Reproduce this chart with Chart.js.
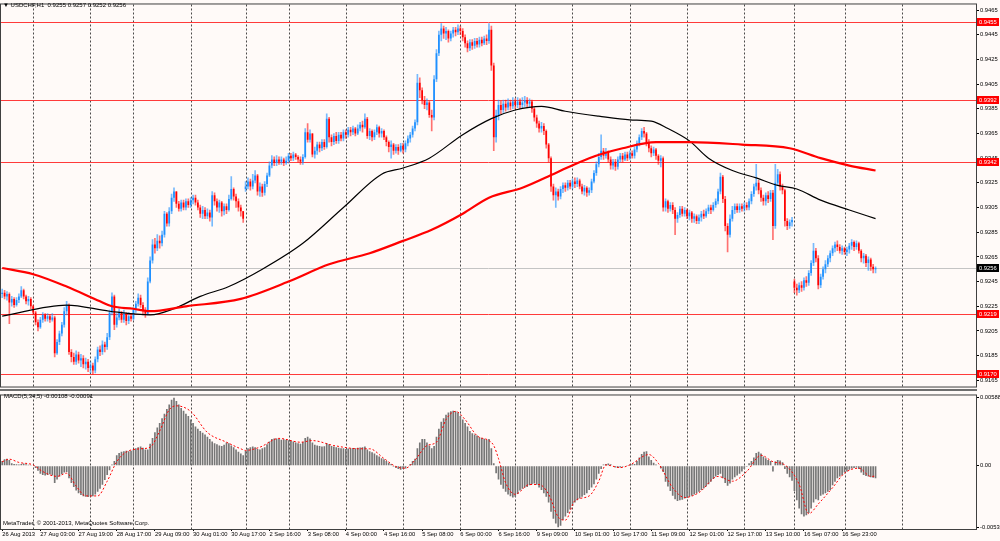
<!DOCTYPE html>
<html>
<head>
<meta charset="utf-8">
<script src="https://cdn.jsdelivr.net/npm/chart.js@4.4.0/dist/chart.umd.min.js"></script>
<style>
  html, body { margin: 0; padding: 0; background: #fffaf8; }
  #wrap { position: relative; width: 1000px; height: 541px; overflow: hidden; background: #fffaf8; }
  canvas { position: absolute; left: 0; }
  #price { top: 0; }
  #macd { top: 391px; }
  #sep { position: absolute; left: 0; top: 389px; width: 977px; height: 2px; background: #6e6e6e; }
  .lbl { position: absolute; font: 6px "Liberation Sans", Arial, sans-serif; color: #000; white-space: pre; }
</style>
</head>
<body>
<div id="wrap">
  <canvas id="price" width="1000" height="391"></canvas>
  <canvas id="macd" width="1000" height="150"></canvas>
  <div id="sep"></div>
  <div class="lbl" style="left:3px;top:2px">▼ USDCHF,H1  0.9255 0.9257 0.9252 0.9256</div>
  <div class="lbl" style="left:4px;top:393px">MACD(5,34,5) -0.00108 -0.00091</div>
  <div class="lbl" style="left:3px;top:520px">MetaTrader, © 2001-2013, MetaQuotes Software Corp.</div>
</div>
<script>
// USDCHF H1 candles, prices in pips above 0.9000 (236 = 0.9236)
const firstOpen = 235;
const gapOpens = { 102: 320, 332: 245 };   // Monday opens after a weekend gap

const closes = [
  236,233,235,228,231,226,230,233,238,233, 229,231,225,220,212,208,214,218,215,217,
  214,216,187,196,203,210,221,226,188,184, 180,186,181,183,178,180,175,177,173,182,
  190,188,194,192,200,220,233,210,216,220, 214,219,213,217,215,222,227,232,226,221,
  219,245,262,275,272,278,276,283,300,292, 302,313,318,308,304,309,305,310,307,311,
  313,309,305,300,303,298,301,297,315,310, 305,309,302,306,303,312,320,314,310,305,
  302,296,322,326,322,327,331,318,322,317, 324,331,339,344,341,344,342,344,341,343,
  347,345,348,346,344,342,346,366,360,365, 348,351,356,353,358,354,377,362,358,363,
  359,364,361,366,364,368,366,369,365,369, 372,370,377,363,367,362,366,370,365,367,
  362,358,354,356,351,354,351,355,352,357, 361,364,369,374,406,400,392,388,390,380,
  378,409,430,445,450,446,448,442,446,449, 447,450,448,443,438,434,439,436,440,437,
  441,438,442,440,449,420,362,380,388,384, 389,386,390,387,391,388,391,388,390,392,
  389,391,385,378,373,369,371,367,356,345, 322,315,318,314,320,323,321,325,322,326,
  324,327,322,318,321,317,319,326,333,340, 346,351,347,350,344,339,342,338,344,347,
  344,348,345,349,347,352,357,362,367,365, 358,353,349,352,347,343,345,305,310,304,
  307,303,296,299,304,300,303,298,301,296, 298,294,297,300,298,302,305,303,307,310,
  318,330,312,290,283,296,303,306,303,306, 304,307,305,310,316,322,325,319,313,310,
  315,312,317,290,325,332,322,319,294,290, 293,295,240,238,242,240,246,244,252,260,
  270,264,242,249,255,259,264,268,272,275, 273,270,272,269,271,274,277,273,276,270,
  264,266,260,263,257,255,256
];
const highs = [
  239,238,237,236,233,232,232,235,241,239, 234,233,232,226,221,214,216,220,219,219,
  218,219,217,198,205,212,224,229,227,190, 187,189,188,186,185,183,182,180,179,184,
  192,193,197,196,203,222,236,234,219,223, 221,222,220,220,219,224,229,235,234,228,
  224,248,265,279,280,283,282,286,302,301, 305,316,321,318,310,311,311,312,312,313,
  315,315,311,307,306,305,304,303,318,317, 312,311,310,308,308,315,330,321,316,312,
  307,302,326,329,328,332,335,332,325,324, 326,333,342,347,346,347,346,346,345,346,
  349,349,350,349,347,346,348,369,373,368, 365,354,358,358,360,360,381,378,364,365,
  366,366,366,368,368,370,370,371,370,372, 374,375,381,378,369,368,368,372,371,369,
  368,363,359,359,357,356,356,357,357,359, 363,366,371,376,413,410,402,395,393,391,
  384,412,433,448,454,452,451,449,448,451, 451,453,452,450,445,440,441,441,442,442,
  443,443,444,445,454,452,422,384,392,391, 392,392,393,392,394,393,394,393,394,395,
  394,393,392,386,380,375,374,373,368,357, 346,324,321,320,322,325,325,327,327,328,
  329,329,328,324,323,322,321,328,335,342, 349,364,353,353,351,346,344,344,346,349,
  349,350,350,351,351,354,359,364,369,370, 366,360,355,354,353,348,347,346,312,311,
  309,309,305,301,306,306,305,304,303,302, 300,299,299,302,303,304,307,307,309,312,
  320,333,331,314,292,299,306,308,308,308, 308,309,309,312,318,324,340,327,321,315,
  317,318,319,319,340,336,334,324,320,296, 295,297,247,243,244,245,248,249,254,262,
  276,272,266,251,257,262,266,270,274,277, 278,275,274,273,273,276,279,278,278,277,
  271,268,267,265,264,259,257
];
const lows = [
  232,231,230,211,225,224,225,228,232,231, 227,226,223,218,210,205,207,212,213,213,
  212,213,184,186,194,201,208,218,186,180, 178,178,179,176,175,174,172,171,170,171,
  180,185,186,188,190,198,218,206,208,214, 212,212,210,211,213,214,220,225,224,218,
  216,218,244,260,268,270,272,274,281,290, 290,300,310,305,302,302,303,303,305,305,
  308,307,303,297,296,296,296,294,290,307, 302,301,298,299,300,302,311,311,305,302,
  298,293,318,320,319,320,325,315,314,314, 315,322,330,337,339,339,340,340,339,340,
  341,343,343,344,342,340,340,345,358,358, 346,345,348,350,351,352,353,358,355,356,
  357,357,359,359,361,362,363,364,363,364, 367,366,369,361,360,359,360,364,362,362,
  360,355,350,345,348,349,348,350,349,350, 355,358,362,367,372,394,389,385,384,378,
  367,376,407,428,440,442,441,439,440,443, 444,445,445,440,435,431,432,433,434,435,
  435,436,437,437,438,416,351,358,376,381, 382,383,384,384,385,385,386,385,386,387,
  386,386,382,375,370,366,366,364,353,342, 318,311,305,311,312,317,318,319,320,320,
  321,322,320,316,315,314,315,317,325,331, 338,344,344,345,342,336,336,335,336,342,
  342,343,343,344,345,345,350,355,360,362, 355,350,346,347,344,340,338,302,302,301,
  302,300,283,293,297,298,298,296,295,293, 293,292,292,294,296,297,300,300,302,305,
  308,316,309,286,269,281,294,300,301,301, 302,302,303,303,308,314,319,316,310,307,
  307,309,310,279,288,323,319,316,290,287, 288,290,236,234,236,237,238,241,242,250,
  258,261,239,240,247,252,257,261,266,269, 270,268,267,267,266,268,271,270,271,268,
  261,260,257,254,254,252,252
];

// moving averages: [bar, pips]
const maBlack = [
  [0,217],[27,226],[45,221],[62,218],[72,223],[83,233],[95,241],[109,255],[126,276],[143,305],
  [159,332],[168,337],[179,345],[193,364],[205,377],[215,384],[226,387],[236,383],[250,379],[263,376],
  [272,375],[279,369],[288,359],[296,345],[306,335],[316,329],[325,323],[333,320],[343,311],[355,303],[366,296]
];
const maRed = [
  [0,256],[13,251],[27,241],[41,229],[46,225],[55,223],[62,221],[77,225],[100,231],[120,245],
  [137,259],[154,268],[168,278],[180,287],[193,300],[204,313],[218,321],[232,333],[246,345],[260,353],
  [274,358],[288,358],[310,356],[330,353],[343,345],[355,339],[366,335]
];

// MACD(5,34,5) main values, in units of 0.00001
const macd = [
  40,55,60,50,20,15,12,10,15,18, 12,8,5,-5,-20,-45,-70,-80,-85,-80,
  -75,-85,-150,-120,-95,-75,-60,-55,-110,-150, -185,-215,-240,-255,-265,-270,-272,-268,-265,-250,
  -225,-200,-165,-125,-80,-40,10,40,90,110, 120,125,128,125,130,140,150,160,165,155,
  140,140,190,240,290,330,370,410,450,490, 530,570,588,560,530,500,475,450,430,400,
  370,340,320,300,285,270,250,230,210,195, 185,175,170,180,200,195,175,160,140,120,
  105,90,130,150,160,165,160,145,140,150, 160,185,210,230,236,236,230,225,228,225,
  220,215,210,200,195,190,205,240,250,235, 200,180,175,170,165,168,195,185,170,165,
  160,155,150,150,145,148,150,152,150,155, 158,160,165,140,125,115,105,90,80,65,
  55,40,25,15,-10,-20,-30,-35,-30,-25, -5,15,40,60,150,200,230,230,200,175,
  150,170,250,320,380,410,440,460,470,475, 470,460,430,400,370,340,300,280,270,260,
  245,240,232,225,230,150,20,-65,-120,-165, -200,-225,-250,-265,-275,-270,-245,-215,-200,-190,
  -185,-170,-160,-155,-165,-190,-210,-240,-270,-320, -400,-460,-500,-534,-520,-470,-440,-410,-380,-350,
  -320,-300,-285,-270,-255,-240,-210,-190,-160,-120, -70,-30,10,15,18,12,-5,-15,-20,-15,
  -10,-5,5,10,12,15,40,70,100,120, 125,80,50,25,10,-5,-25,-55,-140,-180,
  -220,-260,-290,-305,-300,-295,-285,-280,-270,-260, -250,-240,-225,-210,-195,-180,-160,-140,-115,-95,
  -80,-70,-110,-150,-175,-155,-120,-100,-85,-70, -50,-30,-10,20,40,70,110,120,105,80,
  65,50,40,-50,35,50,45,30,-30,-70, -100,-130,-220,-300,-370,-420,-440,-430,-410,-370,
  -320,-290,-300,-260,-250,-240,-225,-210,-170,-140, -110,-95,-80,-60,-50,-35,-25,-20,-15,-30,
  -60,-80,-90,-95,-100,-105,-108
];
// signal line: [bar, 0.00001 units]
const macdSignal = [
  [0,34],[3,56],[7,28],[13,6],[17,-51],[23,-93],[27,-65],[31,-177],[35,-262],[40,-262],
  [44,-135],[48,34],[52,118],[58,146],[62,160],[66,300],[70,484],[73,518],[79,470],[86,287],
  [94,203],[100,146],[102,132],[108,160],[116,236],[125,203],[130,217],[139,174],[150,146],[154,146],
  [160,62],[165,-8],[169,-22],[173,48],[178,174],[182,203],[186,399],[190,470],[194,399],[199,259],
  [204,217],[206,174],[208,60],[211,-150],[215,-248],[221,-163],[225,-163],[229,-248],[233,-444],[236,-472],
  [240,-304],[246,-262],[250,-135],[253,6],[259,-17],[263,6],[271,96],[275,20],[281,-191],[286,-276],
  [292,-233],[300,-93],[306,-135],[312,-51],[318,90],[323,34],[328,6],[334,-163],[338,-416],[342,-332],
  [348,-191],[353,-65],[359,-22],[364,-93],[366,-91]
];

const priceTicks = [0.9465, 0.9445, 0.9425, 0.9405, 0.9385, 0.9365, 0.9345, 0.9325, 0.9305, 0.9285,
                    0.9265, 0.9245, 0.9225, 0.9205, 0.9185, 0.9165];
const levels = [0.9455, 0.9392, 0.9342, 0.9219, 0.9170];
const bidPrice = 0.9256;
const macdTicks = [0.00588, 0, -0.00534];

const dayLines = [13, 37, 55, 79, 102, 120, 144, 168, 192, 215, 239, 263, 287, 311, 332, 353, 377];
const xLabelBars = [0, 16, 32, 48, 64, 80, 96, 112, 128, 144, 160, 176, 192, 208, 224, 240,
                    256, 272, 288, 304, 320, 336, 352];
const xLabels = ['26 Aug 2013', '27 Aug 03:00', '27 Aug 19:00', '28 Aug 17:00', '29 Aug 09:00',
  '30 Aug 01:00', '30 Aug 17:00', '2 Sep 16:00', '3 Sep 08:00', '4 Sep 00:00', '4 Sep 16:00',
  '5 Sep 08:00', '6 Sep 00:00', '6 Sep 16:00', '9 Sep 09:00', '10 Sep 01:00', '10 Sep 17:00',
  '11 Sep 09:00', '12 Sep 01:00', '12 Sep 17:00', '13 Sep 10:00', '16 Sep 07:00', '16 Sep 23:00'];

const BULL = '#1e90ff', BEAR = '#ff0000';
const FONT = { family: '"Liberation Sans", Arial, sans-serif', size: 5.8 };
const X_MIN = -0.5, X_MAX = 408.1;

const px = v => 0.9 + v / 10000;
const opens = closes.map((c, i) => i === 0 ? firstOpen : (gapOpens[i] !== undefined ? gapOpens[i] : closes[i - 1]));
const isBull = i => closes[i] >= opens[i];

const wickData = closes.map((c, i) => ({
  x: i, y: [px(Math.min(lows[i], opens[i], c)), px(Math.max(highs[i], opens[i], c))]
}));
const bodyData = closes.map((c, i) => ({ x: i, y: [px(opens[i]), px(c)] }));

const dayGrid = {
  id: 'dayGrid',
  beforeDatasetsDraw(chart) {
    const { ctx, chartArea: a, scales: { x } } = chart;
    ctx.save();
    ctx.strokeStyle = 'rgba(30,30,30,0.8)';
    ctx.lineWidth = 1;
    ctx.setLineDash([2, 2]);
    dayLines.forEach(i => {
      const xp = Math.round(x.getPixelForValue(i)) + 0.5;
      ctx.beginPath(); ctx.moveTo(xp, a.top); ctx.lineTo(xp, a.bottom); ctx.stroke();
    });
    ctx.restore();
  }
};

const frame = {
  id: 'frame',
  afterDraw(chart) {
    const { ctx, chartArea: a } = chart;
    ctx.save();
    ctx.strokeStyle = '#404040';
    ctx.lineWidth = 1;
    ctx.strokeRect(a.left - 0.5, a.top - 0.5, a.right - a.left + 1, a.bottom - a.top + 1);
    ctx.restore();
  }
};

const priceLevels = {
  id: 'priceLevels',
  beforeDatasetsDraw(chart) {
    const { ctx, chartArea: a, scales: { y } } = chart;
    ctx.save();
    ctx.lineWidth = 1;
    const yb = Math.round(y.getPixelForValue(bidPrice)) + 0.5;
    ctx.strokeStyle = '#c4c4c4';
    ctx.beginPath(); ctx.moveTo(a.left, yb); ctx.lineTo(a.right, yb); ctx.stroke();
    ctx.strokeStyle = '#ff3a3a';
    levels.forEach(v => {
      const yp = Math.round(y.getPixelForValue(v)) + 0.5;
      ctx.beginPath(); ctx.moveTo(a.left, yp); ctx.lineTo(a.right, yp); ctx.stroke();
    });
    ctx.restore();
  },
  afterDraw(chart) {
    const { ctx, chartArea: a, scales: { y } } = chart;
    ctx.save();
    ctx.font = FONT.size + 'px ' + FONT.family;
    ctx.textBaseline = 'middle';
    const tag = (v, bg) => {
      const yp = Math.round(y.getPixelForValue(v));
      ctx.fillStyle = bg;
      ctx.fillRect(a.right + 1, yp - 4, 22, 8);
      ctx.fillStyle = '#fff';
      ctx.fillText(v.toFixed(4), a.right + 3, yp + 0.5);
    };
    levels.forEach(v => tag(v, '#ff0000'));
    tag(bidPrice, '#000');
    ctx.restore();
  }
};

new Chart(document.getElementById('price'), {
  type: 'bar',
  data: {
    datasets: [
      { type: 'line', data: maRed.map(p => ({ x: p[0], y: px(p[1]) })), borderColor: '#ff0000',
        borderWidth: 2.2, pointRadius: 0, cubicInterpolationMode: 'monotone', order: 0 },
      { type: 'line', data: maBlack.map(p => ({ x: p[0], y: px(p[1]) })), borderColor: '#000',
        borderWidth: 1.2, pointRadius: 0, cubicInterpolationMode: 'monotone', order: 0 },
      { data: bodyData, grouped: false, order: 1, barPercentage: 0.7, categoryPercentage: 1,
        minBarLength: 1, backgroundColor: ctx => isBull(ctx.dataIndex) ? BULL : BEAR },
      { data: wickData, grouped: false, order: 2, barThickness: 1,
        backgroundColor: ctx => isBull(ctx.dataIndex) ? 'rgba(30,144,255,0.6)' : 'rgba(255,0,0,0.55)' }
    ]
  },
  options: {
    responsive: false,
    animation: false,
    events: [],
    layout: { padding: { top: 1, left: 1, bottom: 2, right: 0 } },
    plugins: { legend: { display: false }, tooltip: { enabled: false } },
    scales: {
      x: { type: 'linear', min: X_MIN, max: X_MAX, offset: false, display: false },
      y: {
        type: 'linear', position: 'right', min: 0.9160, max: 0.94695,
        afterFit: s => { s.width = 24; },
        afterBuildTicks: s => { s.ticks = priceTicks.map(v => ({ value: v })); },
        ticks: { callback: v => v.toFixed(4), font: FONT, color: '#000', padding: 1, autoSkip: false },
        grid: { drawOnChartArea: false, tickLength: 3, color: '#000' },
        border: { display: false }
      }
    }
  },
  plugins: [dayGrid, priceLevels, frame]
});

new Chart(document.getElementById('macd'), {
  type: 'bar',
  data: {
    datasets: [
      { type: 'line', data: macdSignal.map(p => ({ x: p[0], y: p[1] / 100000 })), borderColor: '#ff0000',
        borderWidth: 1, borderDash: [2, 2], pointRadius: 0, cubicInterpolationMode: 'monotone', order: 0 },
      { data: macd.map((v, i) => ({ x: i, y: v / 100000 })), backgroundColor: '#767676',
        barPercentage: 0.7, categoryPercentage: 1, order: 1 }
    ]
  },
  options: {
    responsive: false,
    animation: false,
    events: [],
    layout: { padding: { top: 1, left: 1, bottom: 0, right: 0 } },
    plugins: { legend: { display: false }, tooltip: { enabled: false } },
    scales: {
      x: {
        type: 'linear', position: 'bottom', min: X_MIN, max: X_MAX, offset: false,
        afterFit: s => { s.height = 12; },
        afterBuildTicks: s => { s.ticks = xLabelBars.map(v => ({ value: v })); },
        ticks: { callback: (v, i) => xLabels[i], align: 'start', maxRotation: 0, autoSkip: false,
                 font: FONT, color: '#000', padding: 0 },
        grid: { drawOnChartArea: false, tickLength: 2, color: '#000', offset: false },
        border: { display: false }
      },
      y: {
        type: 'linear', position: 'right', min: -0.005485, max: 0.006076,
        afterFit: s => { s.width = 24; },
        afterBuildTicks: s => { s.ticks = macdTicks.map(v => ({ value: v })); },
        ticks: { callback: v => v === 0 ? '0.00' : v.toFixed(5), font: FONT, color: '#000', padding: 1, autoSkip: false },
        grid: { drawOnChartArea: false, tickLength: 3, color: '#000' },
        border: { display: false }
      }
    }
  },
  plugins: [dayGrid, frame]
});
</script>
</body>
</html>
